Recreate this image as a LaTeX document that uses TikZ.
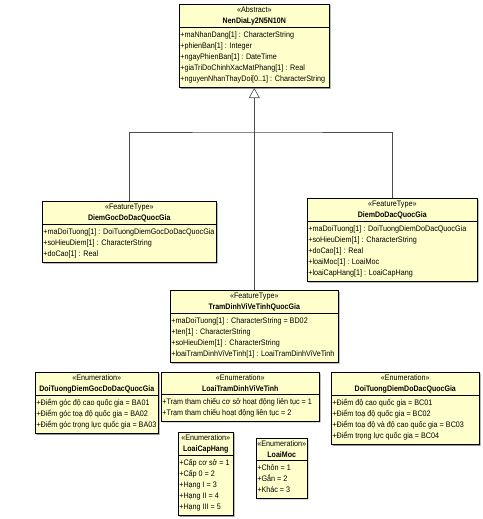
\documentclass[tikz,border=0pt]{standalone}
\usepackage{fontspec}
\setmainfont{Liberation Sans}[FakeStretch=0.9, BoldFeatures={FakeStretch=0.88}]
\usetikzlibrary{shapes.multipart,arrows.meta,shadows}
\definecolor{umlfill}{RGB}{255,255,204}
\newcommand{\attrs}[1]{\begin{tabular}{@{}l@{}}#1\end{tabular}}

\begin{document}
\begin{tikzpicture}[x=1pt,y=-1pt]
    \tikzstyle{every node}+=[font=\fontsize{8}{11}\selectfont]
    \tikzstyle{umlbox}=[rectangle split, rectangle split parts=2, draw=black, line width=0.6pt, fill=umlfill, anchor=north west, align=center, rectangle split part align={center,left}, inner xsep=1pt, inner ysep=2.2pt, drop shadow={shadow xshift=1.2pt, shadow yshift=-1.2pt, fill=black!40, opacity=1}]
    \tikzstyle{link}=[draw=black!70, line width=0.6pt]
    \tikzstyle{gen}=[link, -{Triangle[open, length=10pt, width=11pt]}]
    \useasboundingbox (0,0) rectangle (482,519);
    \node [umlbox, minimum width=150pt] (nen) at (179,4) {«Abstract»\\\textbf{NenDiaLy2N5N10N}\nodepart{two}\attrs{+maNhanDang[1] : CharacterString\\+phienBan[1] : Integer\\+ngayPhienBan[1] : DateTime\\+giaTriDoChinhXacMatPhang[1] : Real\\+nguyenNhanThayDoi[0..1] : CharacterString}};
    \node [umlbox, minimum width=174pt] (goc) at (42,201) {«FeatureType»\\\textbf{DiemGocDoDacQuocGia}\nodepart{two}\attrs{+maDoiTuong[1] : DoiTuongDiemGocDoDacQuocGia\\+soHieuDiem[1] : CharacterString\\+doCao[1] : Real}};
    \node [umlbox, minimum width=170pt] (dodac) at (307,198) {«FeatureType»\\\textbf{DiemDoDacQuocGia}\nodepart{two}\attrs{+maDoiTuong[1] : DoiTuongDiemDoDacQuocGia\\+soHieuDiem[1] : CharacterString\\+doCao[1] : Real\\+loaiMoc[1] : LoaiMoc\\+loaiCapHang[1] : LoaiCapHang}};
    \node [umlbox, minimum width=168pt] (tram) at (170,290) {«FeatureType»\\\textbf{TramDinhViVeTinhQuocGia}\nodepart{two}\attrs{+maDoiTuong[1] : CharacterString = BD02\\+ten[1] : CharacterString\\+soHieuDiem[1] : CharacterString\\+loaiTramDinhViVeTinh[1] : LoaiTramDinhViVeTinh}};
    \node [umlbox, minimum width=123pt] (enumgoc) at (35,372) {«Enumeration»\\\textbf{DoiTuongDiemGocDoDacQuocGia}\nodepart{two}\attrs{+Điểm góc độ cao quốc gia = BA01\\+Điểm góc toạ độ quốc gia = BA02\\+Điểm góc trọng lực quốc gia = BA03}};
    \node [umlbox, minimum width=158pt] (enumtram) at (161,372) {«Enumeration»\\\textbf{LoaiTramDinhViVeTinh}\nodepart{two}\attrs{+Trạm tham chiếu cơ sở hoạt động liên tục = 1\\+Trạm tham chiếu hoạt động liên tục = 2}};
    \node [umlbox, minimum width=148pt] (enumdodac) at (331,372) {«Enumeration»\\\textbf{DoiTuongDiemDoDacQuocGia}\nodepart{two}\attrs{+Điểm độ cao quốc gia = BC01\\+Điểm toạ độ quốc gia = BC02\\+Điểm toạ độ và độ cao quốc gia = BC03\\+Điểm trọng lực quốc gia = BC04}};
    \node [umlbox, minimum width=55pt] (caphang) at (178,432) {«Enumeration»\\\textbf{LoaiCapHang}\nodepart{two}\attrs{+Cấp cơ sở = 1\\+Cấp 0 = 2\\+Hạng I = 3\\+Hạng II = 4\\+Hạng III = 5}};
    \node [umlbox, minimum width=44pt] (moc) at (256,438) {«Enumeration»\\\textbf{LoaiMoc}\nodepart{two}\attrs{+Chôn = 1\\+Gắn = 2\\+Khác = 3}};
    \coordinate (hub) at (254,132);
    \draw [gen] (tram.north) -- (nen.south);
    \draw [link] (goc.north) |- (hub) -| (dodac.north);
\end{tikzpicture}
\end{document}
